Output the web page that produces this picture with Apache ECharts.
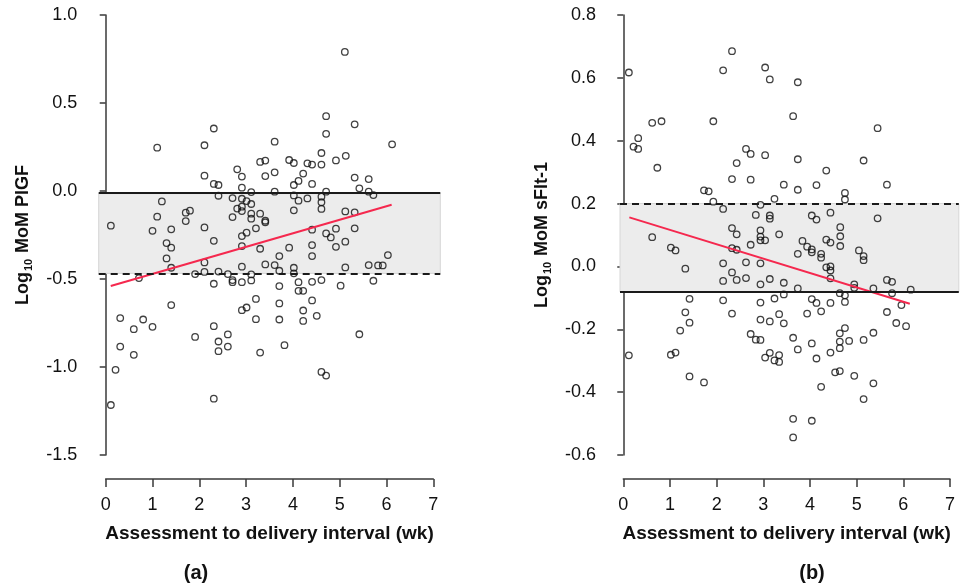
<!DOCTYPE html>
<html>
<head>
<meta charset="utf-8">
<script src="https://cdn.jsdelivr.net/npm/echarts@6/dist/echarts.min.js"></script>
<style>
html,body{margin:0;padding:0;background:#fff;}
#chart{width:962px;height:587px;}
</style>
</head>
<body>
<div id="chart"></div>
<script>
// ---------- Data ----------
var xTicks = [0, 1, 2, 3, 4, 5, 6, 7];
var panelLabels = ['(a)', '(b)'];
var xAxisTitle = 'Assessment to delivery interval (wk)';

// Panel (a): Log10 MoM PlGF
var plgfWeeks = [5.11,4.71,5.32,2.31,4.71,1.10,2.11,6.12,3.61,3.30,3.41,3.92,4.02,4.31,4.41,4.61,4.61,4.92,5.13,2.81,
  2.91,2.11,3.41,3.61,4.22,4.12,4.02,4.41,5.32,5.62,5.42,2.31,2.41,2.91,3.11,3.61,4.71,5.62,5.72,2.41,
  2.71,2.91,3.01,3.11,2.81,2.91,2.91,4.02,4.12,4.31,4.61,4.61,4.61,4.02,1.20,1.10,1.71,1.80,1.71,2.71,
  3.11,3.11,3.30,3.41,3.41,5.12,5.32,0.11,2.11,1.00,1.40,3.21,4.41,4.92,5.32,4.71,4.81,3.01,2.91,2.31,
  1.30,1.40,2.91,3.30,3.92,4.41,4.92,5.12,1.30,3.71,4.41,6.03,
  1.40,2.11,0.71,1.91,2.11,2.41,2.61,2.91,3.11,3.41,3.61,3.71,4.02,4.02,5.12,5.62,5.82,5.92,2.31,2.71,
  2.71,2.91,3.11,3.71,4.12,4.41,4.61,5.02,5.72,4.12,4.22,3.21,3.71,4.41,1.40,2.91,3.01,4.22,4.51,0.31,
  0.80,3.21,3.71,4.22,1.00,2.31,0.60,1.91,2.61,2.41,5.42,0.31,2.61,3.82,2.41,3.30,0.60,0.21,4.61,4.71,
  2.31,0.11];
var plgfLog = [0.79,0.425,0.379,0.355,0.325,0.246,0.26,0.265,0.28,0.165,0.173,0.176,0.159,0.157,0.15,0.15,0.216,0.174,0.20,0.123,
  0.082,0.087,0.085,0.106,0.099,0.057,0.034,0.04,0.076,0.068,0.015,0.04,0.034,0.019,-0.006,-0.004,-0.004,-0.004,-0.023,-0.027,
  -0.04,-0.044,-0.057,-0.074,-0.10,-0.089,-0.114,-0.025,-0.055,-0.042,-0.032,-0.064,-0.102,-0.11,-0.059,-0.146,-0.123,-0.112,-0.171,-0.148,
  -0.129,-0.157,-0.129,-0.169,-0.178,-0.116,-0.121,-0.197,-0.207,-0.226,-0.218,-0.212,-0.22,-0.214,-0.212,-0.241,-0.264,-0.237,-0.256,-0.283,
  -0.296,-0.322,-0.313,-0.328,-0.322,-0.307,-0.317,-0.288,-0.383,-0.37,-0.37,-0.364,
  -0.436,-0.406,-0.495,-0.472,-0.46,-0.458,-0.472,-0.43,-0.474,-0.417,-0.421,-0.453,-0.436,-0.468,-0.434,-0.421,-0.423,-0.423,-0.527,-0.506,
  -0.518,-0.518,-0.508,-0.54,-0.518,-0.516,-0.506,-0.538,-0.51,-0.567,-0.567,-0.613,-0.639,-0.622,-0.648,-0.677,-0.662,-0.679,-0.709,-0.722,
  -0.73,-0.728,-0.73,-0.738,-0.772,-0.768,-0.785,-0.829,-0.815,-0.855,-0.814,-0.884,-0.884,-0.876,-0.91,-0.918,-0.931,-1.016,-1.028,-1.049,
  -1.18,-1.216];
var plgfFitX = [0.107, 6.11];
var plgfFitY = [-0.54, -0.078];
var plgfRefUpper = -0.015;   // solid line
var plgfRefLower = -0.468;   // dashed line

// Panel (b): Log10 MoM sFlt-1
var sfltWeeks = [2.33,0.12,2.14,3.04,3.14,3.74,3.64,0.62,0.82,1.93,5.45,0.32,0.22,0.32,2.63,2.73,3.04,2.43,3.74,5.15,
  0.73,4.35,2.33,2.73,3.44,4.14,5.65,3.74,1.73,1.83,4.75,4.75,3.24,1.93,2.14,2.94,2.84,3.14,3.14,4.04,
  4.14,4.44,5.45,2.33,2.43,2.94,2.94,2.94,3.04,3.34,2.73,4.65,4.65,4.65,3.84,3.94,4.04,4.04,4.35,4.44,
  0.62,1.02,1.12,2.33,2.43,3.74,4.24,4.24,5.05,5.15,5.15,
  2.14,2.63,2.94,1.33,2.33,4.35,4.44,4.44,2.14,2.43,2.63,3.14,2.94,3.44,4.44,4.95,4.95,3.74,5.36,5.65,
  5.76,6.16,5.76,4.64,4.75,3.44,1.42,2.14,3.24,4.04,4.14,4.44,2.94,4.75,5.96,1.33,2.33,3.34,3.94,4.24,
  5.65,2.94,3.14,3.44,1.42,5.85,6.06,4.75,1.22,2.73,2.84,2.94,3.64,4.64,5.36,4.64,4.84,5.15,4.04,4.64,
  3.74,4.44,3.14,3.34,3.04,3.24,3.34,0.12,1.02,1.12,4.14,4.54,4.64,4.95,1.42,1.73,5.36,4.24,5.15,3.64,
  4.04,3.64];
var sfltLog = [0.685,0.617,0.624,0.633,0.595,0.586,0.478,0.457,0.462,0.462,0.44,0.408,0.381,0.374,0.374,0.358,0.354,0.329,0.341,0.337,
  0.314,0.305,0.278,0.276,0.26,0.259,0.26,0.244,0.242,0.239,0.234,0.213,0.215,0.206,0.183,0.196,0.164,0.162,0.152,0.162,
  0.149,0.171,0.153,0.122,0.102,0.115,0.095,0.083,0.083,0.102,0.069,0.125,0.096,0.065,0.081,0.063,0.054,0.045,0.085,0.076,
  0.093,0.06,0.051,0.058,0.053,0.04,0.04,0.028,0.051,0.033,0.02,
  0.01,0.013,0.01,-0.007,-0.019,-0.003,0.0,-0.013,-0.046,-0.043,-0.037,-0.04,-0.057,-0.052,-0.038,-0.057,-0.068,-0.07,-0.07,-0.043,
  -0.049,-0.074,-0.085,-0.085,-0.092,-0.089,-0.103,-0.108,-0.102,-0.104,-0.116,-0.116,-0.115,-0.113,-0.123,-0.146,-0.15,-0.152,-0.15,-0.143,
  -0.145,-0.169,-0.175,-0.181,-0.179,-0.18,-0.19,-0.196,-0.204,-0.215,-0.233,-0.234,-0.227,-0.213,-0.211,-0.239,-0.237,-0.234,-0.245,-0.26,
  -0.264,-0.274,-0.275,-0.282,-0.29,-0.299,-0.304,-0.283,-0.281,-0.274,-0.293,-0.337,-0.333,-0.348,-0.35,-0.369,-0.372,-0.383,-0.422,-0.485,
  -0.491,-0.544];
var sfltFitX = [0.13, 6.14];
var sfltFitY = [0.156, -0.119];
var sfltRefUpper = 0.2;     // dashed line
var sfltRefLower = -0.081;  // solid line

// ---------- Build ----------
function pairs(xs, ys) { var out = []; for (var i = 0; i < xs.length; i++) out.push([xs[i], ys[i]]); return out; }

var FONT = '"Liberation Sans", Arial, Helvetica, sans-serif';
var AX = '#3a3a3a';
var RED = '#f5284e';

function dataX(grid, min, max) {
  return { type: 'value', gridIndex: grid, min: min, max: max, show: false };
}
function tickX(grid) {
  return {
    type: 'value', gridIndex: grid, min: 0, max: 7, interval: 1, position: 'bottom',
    axisLine: { show: true, lineStyle: { color: AX, width: 1.5 } },
    axisTick: { show: true, length: 8, lineStyle: { color: AX, width: 1.5 } },
    axisLabel: { show: true, margin: 17, fontSize: 18, color: '#111', fontFamily: FONT,
      formatter: function (v) { return xTicks.indexOf(v) >= 0 ? String(v) : ''; } },
    splitLine: { show: false },
    name: xAxisTitle, nameLocation: 'middle', nameGap: 45,
    nameTextStyle: { fontSize: 19, fontWeight: 'bold', color: '#111', fontFamily: FONT }
  };
}
function valY(grid, min, max, interval, offset, nameRich) {
  return {
    type: 'value', gridIndex: grid, min: min, max: max, interval: interval, offset: offset,
    axisLine: { show: true, lineStyle: { color: AX, width: 1.5 } },
    axisTick: { show: true, length: 6, lineStyle: { color: AX, width: 1.5 } },
    axisLabel: { margin: 10, fontSize: 18, color: '#111', fontFamily: FONT,
      formatter: function (v) { return (Math.round(v * 10) / 10).toFixed(1); } },
    splitLine: { show: false },
    name: nameRich, nameLocation: 'middle', nameGap: 53, nameRotate: 90,
    nameTextStyle: {
      color: '#111', fontFamily: FONT,
      rich: {
        b: { fontSize: 18, fontWeight: 'bold', fontFamily: FONT, color: '#111', lineHeight: 22 },
        s: { fontSize: 11, fontWeight: 'bold', fontFamily: FONT, color: '#111', verticalAlign: 'bottom', lineHeight: 22, padding: [0, 1, 0, 1] }
      }
    }
  };
}
function hiddenY(grid) { return { type: 'value', gridIndex: grid, min: 0, max: 1, show: false }; }

function bandSeries(xi, yi, lo, hi, solidAt, dashedAt) {
  return {
    type: 'line', xAxisIndex: xi, yAxisIndex: yi, data: [], silent: true, z: 1,
    markArea: { silent: true, itemStyle: { color: '#ececec', borderColor: '#d6d6d6', borderWidth: 1 },
      data: [[{ yAxis: lo }, { yAxis: hi }]] },
    markLine: { silent: true, symbol: ['none', 'none'], label: { show: false },
      data: [
        { yAxis: solidAt, lineStyle: { color: '#1a1a1a', width: 2, type: 'solid' } },
        { yAxis: dashedAt, lineStyle: { color: '#1a1a1a', width: 2, type: [7, 5] } }
      ] }
  };
}
function pointSeries(xi, yi, xs, ys) {
  return {
    type: 'scatter', xAxisIndex: xi, yAxisIndex: yi, data: pairs(xs, ys), z: 3,
    symbol: 'circle', symbolSize: 6.5, silent: true,
    itemStyle: { color: 'rgba(255,255,255,0)', borderColor: '#111', borderWidth: 1.3 }
  };
}
function fitSeries(xi, yi, xs, ys) {
  return {
    type: 'line', xAxisIndex: xi, yAxisIndex: yi, data: pairs(xs, ys), z: 4,
    showSymbol: false, symbol: 'none', silent: true,
    lineStyle: { color: RED, width: 2 }
  };
}

var option = {
  backgroundColor: '#ffffff',
  animation: false,
  grid: [
    { left: 98.7, top: 15, width: 341.6, height: 440 },
    { left: 105.7, top: 455, width: 327.6, height: 24 },
    { left: 620, top: 15, width: 338.8, height: 440 },
    { left: 623.3, top: 455, width: 326.7, height: 24 }
  ],
  xAxis: [ dataX(0, -0.15, 7.15), tickX(1), dataX(2, -0.07, 7.19), tickX(3) ],
  yAxis: [
    valY(0, -1.5, 1.0, 0.5, 11.4, '{b|Log}{s|10}{b| MoM PlGF}'),
    hiddenY(1),
    valY(2, -0.6, 0.8, 0.2, 14, '{b|Log}{s|10}{b| MoM sFlt-1}'),
    hiddenY(3)
  ],
  series: [
    bandSeries(0, 0, plgfRefLower, plgfRefUpper, plgfRefUpper, plgfRefLower),
    pointSeries(0, 0, plgfWeeks, plgfLog),
    fitSeries(0, 0, plgfFitX, plgfFitY),
    bandSeries(2, 2, sfltRefLower, sfltRefUpper, sfltRefLower, sfltRefUpper),
    pointSeries(2, 2, sfltWeeks, sfltLog),
    fitSeries(2, 2, sfltFitX, sfltFitY)
  ],
  graphic: [
    { type: 'text', style: { text: panelLabels[0], font: 'bold 20px ' + FONT, fill: '#111', textAlign: 'center', textVerticalAlign: 'middle' }, position: [196, 573] },
    { type: 'text', style: { text: panelLabels[1], font: 'bold 20px ' + FONT, fill: '#111', textAlign: 'center', textVerticalAlign: 'middle' }, position: [812, 573] }
  ]
};

var chart = echarts.init(document.getElementById('chart'), null, { renderer: 'canvas' });
chart.setOption(option);
</script>
</body>
</html>
